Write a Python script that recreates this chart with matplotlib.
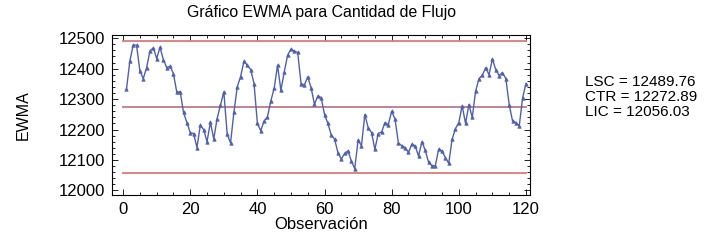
import numpy as np
import matplotlib
matplotlib.use("Agg")
import matplotlib.pyplot as plt
from matplotlib.ticker import MultipleLocator

plt.rcParams['font.family'] = ['Liberation Sans', 'DejaVu Sans']

# EWMA values, observations 1..120
obs = np.arange(1, 121)
ewma = [12332, 12424, 12477, 12477, 12393, 12367, 12403, 12458, 12468, 12433,
        12470, 12429, 12403, 12408, 12383, 12322, 12324, 12256, 12223, 12190,
        12187, 12141, 12214, 12200, 12160, 12224, 12169, 12236, 12280, 12324,
        12185, 12156, 12256, 12340, 12374, 12424, 12411, 12397, 12351, 12220,
        12196, 12228, 12242, 12294, 12335, 12411, 12329, 12389, 12444, 12464,
        12457, 12453, 12351, 12346, 12373, 12337, 12283, 12310, 12305, 12249,
        12220, 12182, 12168, 12124, 12103, 12122, 12130, 12096, 12072, 12165,
        12147, 12249, 12206, 12190, 12135, 12187, 12192, 12223, 12216, 12260,
        12234, 12156, 12147, 12141, 12125, 12152, 12146, 12113, 12160, 12132,
        12092, 12081, 12081, 12136, 12129, 12108, 12089, 12168, 12203, 12223,
        12278, 12220, 12282, 12240, 12326, 12367, 12378, 12403, 12380, 12431,
        12397, 12377, 12387, 12367, 12282, 12228, 12223, 12212, 12304, 12351]

lsc = 12489.76
ctr = 12272.89
lic = 12056.03

fig = plt.figure(figsize=(7.09, 2.42), dpi=100)
ax = fig.add_axes([0.158, 0.194, 0.59, 0.661])

ax.plot([0, 120], [lsc, lsc], color='#e07878', lw=1.3)
ax.plot([0, 120], [ctr, ctr], color='#c07888', lw=1.3)
ax.plot([0, 120], [lic, lic], color='#e07878', lw=1.3)
ax.plot(obs, ewma, color='#5060b0', lw=1.0, marker='^', ms=2.5,
        markerfacecolor='#5060b0', markeredgewidth=0.5)

ax.set_xlim(-3.3, 121.3)
ax.set_ylim(11985, 12510)
ax.xaxis.set_major_locator(MultipleLocator(20))
ax.xaxis.set_minor_locator(MultipleLocator(5))
ax.yaxis.set_major_locator(MultipleLocator(100))
ax.yaxis.set_minor_locator(MultipleLocator(20))
ax.tick_params(which='both', direction='in', top=True, right=True,
               labelsize=12, width=0.6)
ax.tick_params(which='major', length=4, pad=5)
ax.tick_params(which='minor', length=2)
for s in ax.spines.values():
    s.set_linewidth(0.8)

ax.set_title('Gráfico EWMA para Cantidad de Flujo', fontsize=11.4, pad=13)
ax.set_xlabel('Observación', fontsize=12, labelpad=0)
ax.set_ylabel('EWMA', fontsize=11.5, labelpad=20)

fig.text(0.825, 0.66, 'LSC = %.2f' % lsc, fontsize=11, va='center')
fig.text(0.825, 0.60, 'CTR = %.2f' % ctr, fontsize=11, va='center')
fig.text(0.825, 0.537, 'LIC = %.2f' % lic, fontsize=11, va='center')

fig.savefig('out.png', dpi=100)
